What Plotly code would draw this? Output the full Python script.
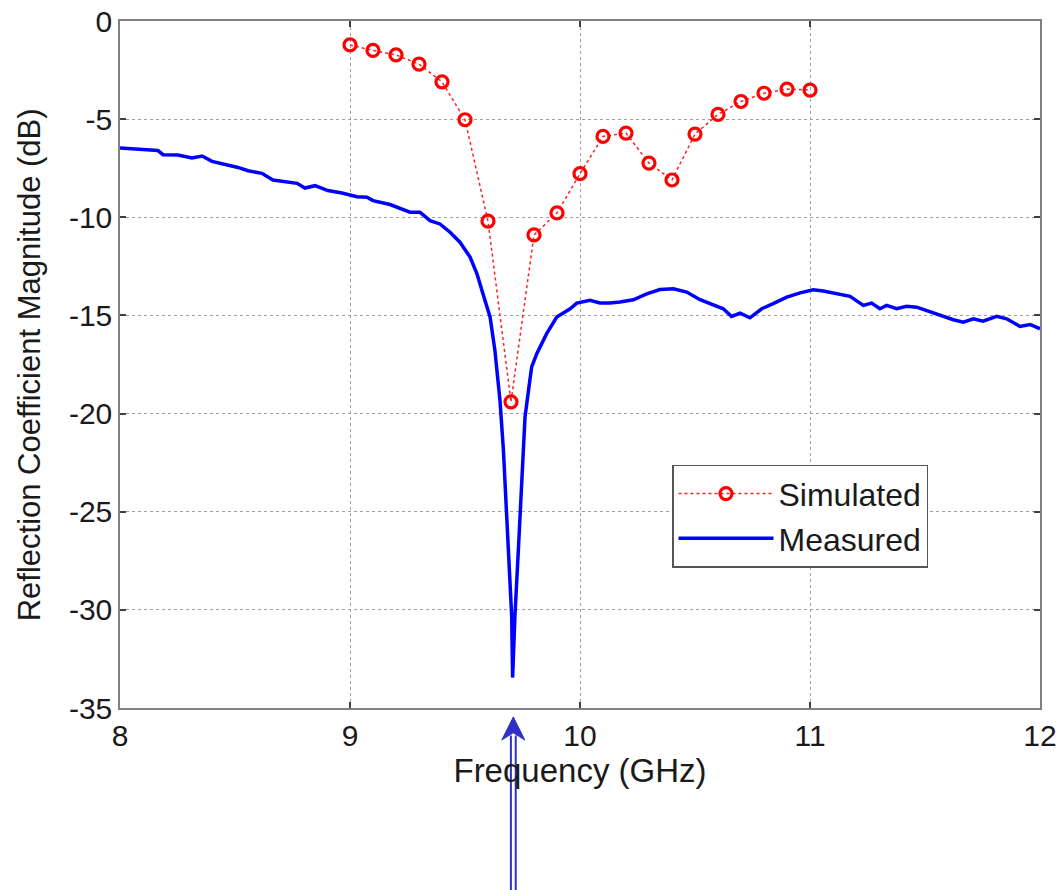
import plotly.graph_objects as go

# Simulated data (GHz, dB)
sim_freq = [9.0, 9.1, 9.2, 9.3, 9.4, 9.5, 9.6, 9.7, 9.8, 9.9, 10.0,
            10.1, 10.2, 10.3, 10.4, 10.5, 10.6, 10.7, 10.8, 10.9, 11.0]
sim_db = [-1.22, -1.5, -1.73, -2.2, -3.1, -5.03, -10.2, -19.4, -10.9, -9.78, -7.78,
          -5.88, -5.71, -7.24, -8.1, -5.76, -4.76, -4.1, -3.68, -3.47, -3.52]

meas_freq = [8.000, 8.065, 8.165, 8.187, 8.252, 8.313, 8.357, 8.400, 8.457, 8.513,
             8.557, 8.617, 8.665, 8.730, 8.770, 8.804, 8.848, 8.904, 8.965, 9.030,
             9.074, 9.100, 9.174, 9.261, 9.304, 9.348, 9.391, 9.435, 9.478, 9.522,
             9.552, 9.578, 9.609, 9.630, 9.652, 9.667, 9.681, 9.693, 9.703, 9.707,
             9.717, 9.732, 9.747, 9.761, 9.780, 9.790, 9.812, 9.855, 9.899, 9.957,
             9.986, 10.043, 10.087, 10.130, 10.174, 10.232, 10.290, 10.348, 10.406, 10.464,
             10.522, 10.580, 10.623, 10.659, 10.696, 10.739, 10.790, 10.840, 10.899, 10.957,
             11.014, 11.058, 11.116, 11.174, 11.232, 11.268, 11.304, 11.333, 11.377, 11.420,
             11.464, 11.522, 11.580, 11.623, 11.667, 11.710, 11.752, 11.812, 11.855, 11.913,
             11.957, 12.000]
meas_db = [-6.47, -6.52, -6.60, -6.81, -6.83, -6.98, -6.88, -7.15, -7.29, -7.46,
           -7.63, -7.76, -8.10, -8.22, -8.27, -8.51, -8.39, -8.64, -8.76, -8.95,
           -8.98, -9.15, -9.35, -9.74, -9.74, -10.17, -10.34, -10.76, -11.27, -12.03,
           -12.88, -13.90, -15.08, -16.78, -19.32, -21.86, -25.25, -27.79, -30.33, -33.45,
           -30.33, -26.94, -23.55, -20.17, -18.47, -17.62, -16.95, -15.93, -15.08, -14.66,
           -14.37, -14.23, -14.37, -14.37, -14.32, -14.20, -13.90, -13.68, -13.64, -13.81,
           -14.20, -14.49, -14.66, -15.05, -14.88, -15.12, -14.66, -14.40, -14.07, -13.85,
           -13.69, -13.76, -13.90, -14.03, -14.49, -14.37, -14.66, -14.49, -14.66, -14.53,
           -14.58, -14.83, -15.05, -15.22, -15.34, -15.17, -15.29, -15.05, -15.17, -15.56,
           -15.46, -15.68]

x_ticks = [8, 9, 10, 11, 12]
x_ticktext = ["8", "9", "10", "11", "12"]
y_ticks = [0, -5, -10, -15, -20, -25, -30, -35]
y_ticktext = ["0", "-5", "-10", "-15", "-20", "-25", "-30", "-35"]

X_TITLE = "Frequency (GHz)"
Y_TITLE = "Reflection Coefficient Magnitude (dB)"

ARROW_FREQ = 9.71  # resonance marker

FONT = "Liberation Sans, Arial, sans-serif"
TXT = "#1a1a1a"

fig = go.Figure()
fig.add_trace(go.Scatter(
    x=meas_freq, y=meas_db, mode="lines", name="Measured",
    line=dict(color="#0000ff", width=3.5),
))
fig.add_trace(go.Scatter(
    x=sim_freq, y=sim_db, mode="lines+markers", name="Simulated",
    line=dict(color="#ff2020", width=1.5, dash="dot"),
    marker=dict(symbol="circle-open", size=12, color="#ff0000", line=dict(width=3.2, color="#ff0000")),
))

axis_common = dict(
    showline=True, linecolor="#808080", linewidth=1.5, mirror="allticks",
    ticks="inside", ticklen=6, tickcolor="#404040", tickwidth=1.5,
    showgrid=True, gridcolor="#a0a0a0", griddash="dot", gridwidth=1,
    zeroline=False, automargin=False,
    tickfont=dict(family=FONT, size=30, color=TXT),
)

fig.update_xaxes(range=[8, 12], tickvals=x_ticks, ticktext=x_ticktext,
                 title=dict(text=X_TITLE, font=dict(family=FONT, size=33, color=TXT), standoff=0),
                 **axis_common)
fig.update_yaxes(range=[-35, 0], tickvals=y_ticks, ticktext=y_ticktext,
                 **axis_common)

arrow_color = "#3030c8"
dx = 0.0105
shapes = [
    dict(type="line", xref="x", yref="paper", x0=ARROW_FREQ - dx, x1=ARROW_FREQ - dx,
         y0=-0.04, y1=-0.27, line=dict(color=arrow_color, width=2)),
    dict(type="line", xref="x", yref="paper", x0=ARROW_FREQ + dx, x1=ARROW_FREQ + dx,
         y0=-0.04, y1=-0.27, line=dict(color=arrow_color, width=2)),
    dict(type="path", xref="x", yref="paper",
         path=f"M {ARROW_FREQ},-0.013 L {ARROW_FREQ - 0.05},-0.0466 L {ARROW_FREQ},-0.036 L {ARROW_FREQ + 0.05},-0.0466 Z",
         fillcolor=arrow_color, line=dict(color=arrow_color, width=1)),
]

fig.update_layout(
    width=1063, height=890,
    margin=dict(l=120, r=23, t=21, b=182),
    paper_bgcolor="white", plot_bgcolor="white",
    font=dict(family=FONT, size=30, color=TXT),
    showlegend=True,
    legend=dict(x=0.6, y=0.354, xanchor="left", yanchor="top",
                bgcolor="white", bordercolor="#555", borderwidth=1.5,
                traceorder="reversed", font=dict(family=FONT, size=32, color=TXT),
                itemwidth=95, tracegroupgap=0),
    shapes=shapes,
    annotations=[dict(text=Y_TITLE, xref="paper", yref="paper", x=-0.098, y=0.5,
                      xanchor="center", yanchor="middle", textangle=-90, showarrow=False,
                      font=dict(family=FONT, size=31, color=TXT))],
)

fig.write_html("out.html")
